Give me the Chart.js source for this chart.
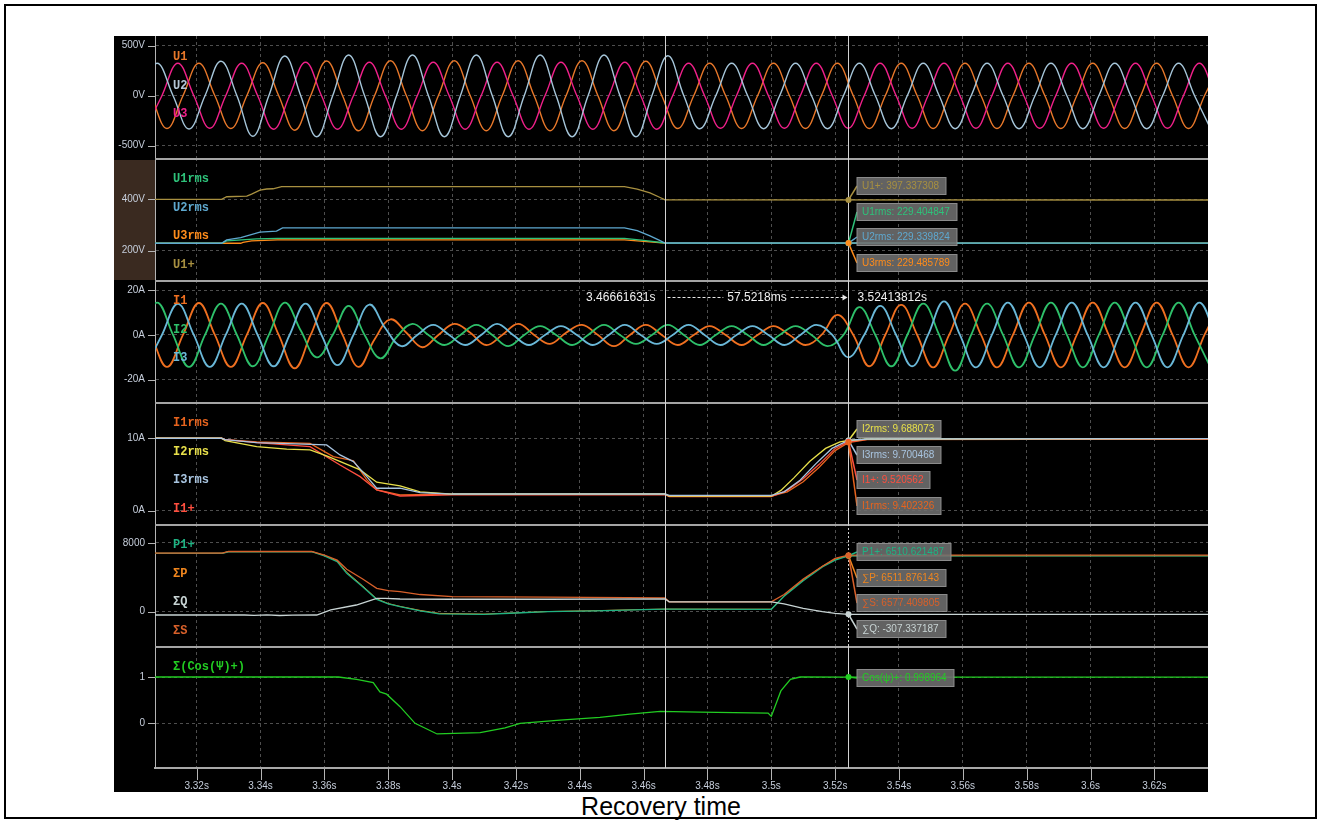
<!DOCTYPE html>
<html>
<head>
<meta charset="utf-8">
<script src="https://cdn.jsdelivr.net/npm/chart.js@4.4.1/dist/chart.umd.min.js"></script>
<style>
  html, body { margin: 0; padding: 0; background: #fff; }
  #frame { position: absolute; left: 4px; top: 4px; width: 1313px; height: 815px; box-sizing: border-box; border: 2px solid #000; }
  #scope { position: absolute; left: 114px; top: 36px; width: 1094px; height: 756px; background: #000; }
  #scope canvas { position: absolute; left: 0; }
  #caption { position: absolute; left: 0; width: 1322px; top: 793px; line-height: 26px; text-align: center; font-family: "Liberation Sans", Arial, sans-serif; font-size: 25px; color: #000; }
</style>
</head>
<body>
<div id="frame"></div>
<div id="scope">
  <canvas id="c1" width="1094" height="122" style="top:0px"></canvas>
  <canvas id="c2" width="1094" height="122" style="top:122px"></canvas>
  <canvas id="c3" width="1094" height="122" style="top:244px"></canvas>
  <canvas id="c4" width="1094" height="122" style="top:366px"></canvas>
  <canvas id="c5" width="1094" height="122" style="top:488px"></canvas>
  <canvas id="c6" width="1094" height="146" style="top:610px"></canvas>
</div>
<div id="caption">Recovery time</div>
<script>
// ==== time axis ====
const X_MIN = 3.30694, X_MAX = 3.6368;
const X_MINOR = 0.004, X_MAJOR = 0.02;
const CURSOR_A = 3.46661631, CURSOR_B = 3.52413812;

// ==== sample times (peaks / zero crossings) ====
const tU1 = [3.3057,3.3107,3.3157,3.3207,3.3257,3.3307,3.3357,3.3407,3.3457,3.3507,
  3.3557,3.3607,3.3657,3.3707,3.3757,3.3807,3.3857,3.3907,3.3957,3.4007,
  3.4057,3.4107,3.4157,3.4207,3.4257,3.4307,3.4357,3.4407,3.4457,3.4507,
  3.4557,3.4607,3.4657,3.4707,3.4757,3.4807,3.4857,3.4907,3.4957,3.5007,
  3.5057,3.5107,3.5157,3.5207,3.5257,3.5307,3.5357,3.5407,3.5457,3.5507,
  3.5557,3.5607,3.5657,3.5707,3.5757,3.5807,3.5857,3.5907,3.5957,3.6007,
  3.6057,3.6107,3.6157,3.6207,3.6257,3.6307,3.6357,3.6407];
const tU2 = [3.3026,3.3076,3.3126,3.3176,3.3226,3.3276,3.3326,3.3376,3.3426,3.3476,
  3.3526,3.3576,3.3626,3.3676,3.3726,3.3776,3.3826,3.3876,3.3926,3.3976,
  3.4026,3.4076,3.4126,3.4176,3.4226,3.4276,3.4326,3.4376,3.4426,3.4476,
  3.4526,3.4576,3.4626,3.4676,3.4726,3.4776,3.4826,3.4876,3.4926,3.4976,
  3.5026,3.5076,3.5126,3.5176,3.5226,3.5276,3.5326,3.5376,3.5426,3.5476,
  3.5526,3.5576,3.5626,3.5676,3.5726,3.5776,3.5826,3.5876,3.5926,3.5976,
  3.6026,3.6076,3.6126,3.6176,3.6226,3.6276,3.6326,3.6376];
const tU3 = [3.3041,3.3091,3.3141,3.3191,3.3241,3.3291,3.3341,3.3391,3.3441,3.3491,
  3.3541,3.3591,3.3641,3.3691,3.3741,3.3791,3.3841,3.3891,3.3941,3.3991,
  3.4041,3.4091,3.4141,3.4191,3.4241,3.4291,3.4341,3.4391,3.4441,3.4491,
  3.4541,3.4591,3.4641,3.4691,3.4741,3.4791,3.4841,3.4891,3.4941,3.4991,
  3.5041,3.5091,3.5141,3.5191,3.5241,3.5291,3.5341,3.5391,3.5441,3.5491,
  3.5541,3.5591,3.5641,3.5691,3.5741,3.5791,3.5841,3.5891,3.5941,3.5991,
  3.6041,3.6091,3.6141,3.6191,3.6241,3.6291,3.6341,3.6391];

// ==== phase voltages (V) ====
const u1 = [0,-328,0,324,0,-328,0,330,0,-345,
  0,347,0,-350,0,350,0,-350,0,350,
  0,-350,0,350,0,-350,0,350,0,-350,
  0,345,0,-328,0,325,0,-328,0,325,
  0,-328,0,325,0,-328,0,325,0,-328,
  0,325,0,-328,0,325,0,-328,0,325,
  0,-328,0,325,0,-328,0,325];
const u2 = [0,324,0,-333,0,345,0,-405,0,397,
  0,-410,0,407,0,-410,0,407,0,-410,
  0,407,0,-410,0,407,0,-410,0,407,
  0,-410,0,400,0,-330,0,325,0,-330,
  0,325,0,-330,0,325,0,-330,0,325,
  0,-330,0,325,0,-330,0,325,0,-330,
  0,325,0,-330,0,325,0,-330];
const u3 = [-325,0,325,0,-325,0,325,0,-335,0,
  335,0,-335,0,335,0,-335,0,335,0,
  -335,0,335,0,-335,0,335,0,-335,0,
  335,0,-335,0,325,0,-325,0,325,0,
  -325,0,325,0,-325,0,325,0,-325,0,
  325,0,-325,0,325,0,-325,0,325,0,
  -325,0,325,0,-325,0,325,0];

// ==== phase currents (A) ====
const i1 = [0,-14.3,0,14.3,0,-14.3,0,14.3,0,-14.9,
  0,14.3,0,-14.3,-2,7,1,-5.5,0,5,
  1,-4.5,0,5,0,-4,1,4.5,0,-5,
  0,4.5,0,-4.5,0,4,0,-4.5,0,4,
  0,-4.5,0,9,0,-14,0,13.5,0,-14.5,
  0,14,0,-14.5,0,14.5,0,-14.5,0,14.5,
  0,-14.5,0,14.5,0,-14.5,0,14.5];
const i2 = [0,14.5,0,-14.3,0,14,0,-14,0,14.5,
  2,-10,0,13,0,-10.5,-1,5,0,-4.5,
  0,4.5,0,-5,0,4,0,-4.5,0,4.5,
  0,-4,0,4.5,0,-4.5,0,4,0,-4.5,
  0,4,0,-5,0,12.5,0,-14,0,14,
  0,-16,0,14,0,-14.5,0,14.5,0,-14.5,
  0,14.5,0,-14.5,0,14.5,0,-14.5];
const i3 = [-14,0,13.9,0,-14.3,0,14,0,-14,0,
  14,0,-13.5,0,13.6,3,-5,0,4.5,0,
  -4.5,0,5,0,-4.5,0,4,0,-4.5,0,
  4.5,0,-4,0,4.5,0,-4.5,0,4,0,
  -4.5,0,4.5,0,-10,0,13,0,-14,0,
  15,0,-14.5,0,14.5,0,-14.5,0,14.5,0,
  -14.5,0,14.5,0,-14.5,0,14.5,0];

// ==== rms voltages (V) ====
const u1rms = [[3.3069,229],[3.3278,229],[3.3294,238],[3.3388,246],[3.3453,248],[3.4540,248],[3.4600,240],[3.4667,230],[3.6368,229.4]];
const u2rms = [[3.3069,229],[3.3278,229],[3.3294,242],[3.3338,251],[3.3398,272],[3.3450,276],[3.3469,289],[3.4540,289],[3.4580,278],[3.4620,258],[3.4650,240],[3.4667,230],[3.6368,229.3]];
const u3rms = [[3.3069,229],[3.3338,229],[3.3345,232],[3.3372,238],[3.3453,242],[3.4540,242],[3.4600,236],[3.4667,230],[3.6368,229.5]];
const u1pos = [[3.3069,400],[3.3278,400],[3.3294,410],[3.3357,412],[3.3372,420],[3.3398,436],[3.3419,440],[3.3439,441],[3.3466,449],[3.4540,449],[3.4580,440],[3.4620,425],[3.4650,408],[3.4667,398],[3.6368,397.3]];

// ==== rms currents (A) ====
const i1rms = [[3.3069,10],[3.3278,10],[3.3289,9.8],[3.3388,9.5],[3.3555,9.3],[3.3628,7.47],[3.3691,6.9],[3.3733,4.25],[3.3764,2.87],[3.3837,2.17],[3.4000,2.3],[3.4667,2.3],[3.4680,2.0],[3.5000,2.0],[3.5050,2.6],[3.5100,4.0],[3.5150,6.0],[3.5200,8.3],[3.5241,9.40],[3.5300,9.8],[3.6368,9.9]];
const i2rms = [[3.3069,10],[3.3278,10],[3.3289,9.68],[3.3388,8.85],[3.3482,8.49],[3.3555,8.4],[3.3607,7.57],[3.3712,5.63],[3.3764,3.93],[3.3837,3.42],[3.3900,2.6],[3.4000,2.3],[3.4667,2.3],[3.4680,2.0],[3.5000,2.0],[3.5030,2.8],[3.5070,4.5],[3.5120,6.8],[3.5170,8.6],[3.5215,9.5],[3.5241,9.69],[3.5300,9.9],[3.6368,9.95]];
const i3rms = [[3.3069,10],[3.3278,10],[3.3289,9.8],[3.3388,9.4],[3.3607,9.09],[3.3649,7.7],[3.3691,6.78],[3.3733,4.7],[3.3764,3.1],[3.3837,3.1],[3.3900,2.5],[3.4000,2.3],[3.4667,2.3],[3.4680,2.1],[3.5000,2.1],[3.5040,2.6],[3.5090,4.2],[3.5140,6.5],[3.5190,8.6],[3.5241,9.70],[3.5300,9.9],[3.6368,9.95]];
const i1pos = [[3.3069,10],[3.3278,10],[3.3289,9.8],[3.3388,9.4],[3.3555,8.85],[3.3649,6.3],[3.3712,4.7],[3.3764,2.87],[3.3837,2.03],[3.4000,2.2],[3.4667,2.2],[3.4680,1.95],[3.5000,1.95],[3.5050,2.8],[3.5100,4.4],[3.5150,6.4],[3.5200,8.6],[3.5241,9.52],[3.5300,9.85],[3.6368,9.9]];

// ==== power (W, var, VA) ====
const p1pos = [[3.3069,6800],[3.3280,6800],[3.3300,6980],[3.3560,7000],[3.3600,6500],[3.3640,5820],[3.3670,4470],[3.3720,2900],[3.3764,1440],[3.3800,900],[3.3837,580],[3.3900,100],[3.3960,-250],[3.4100,-300],[3.4200,-150],[3.4300,0],[3.4450,100],[3.4600,250],[3.4667,290],[3.5000,280],[3.5040,1800],[3.5100,3600],[3.5160,5200],[3.5200,6000],[3.5241,6510.6],[3.6368,6510]];
const sumP = [[3.3069,6800],[3.3280,6810],[3.3300,7000],[3.3560,7010],[3.3600,6550],[3.3640,5900],[3.3670,4600],[3.3720,3000],[3.3764,1500],[3.3800,950],[3.3837,620],[3.3900,150],[3.3960,-200],[3.4100,-280],[3.4200,-130],[3.4300,20],[3.4450,120],[3.4600,260],[3.4667,300],[3.5000,290],[3.5040,1850],[3.5100,3700],[3.5160,5300],[3.5200,6100],[3.5241,6511.9],[3.6368,6512]];
const sumS = [[3.3069,6830],[3.3280,6830],[3.3300,7010],[3.3560,7020],[3.3600,6600],[3.3640,6000],[3.3670,4940],[3.3720,3800],[3.3764,2720],[3.3800,2450],[3.3837,2330],[3.3900,2000],[3.4000,1750],[3.4300,1700],[3.4667,1600],[3.4680,1150],[3.5000,1150],[3.5040,2000],[3.5100,3800],[3.5160,5300],[3.5200,6200],[3.5241,6577.4],[3.6368,6580]];
const sumQ = [[3.3069,-384],[3.3350,-384],[3.3380,-420],[3.3420,-360],[3.3460,-440],[3.3500,-400],[3.3576,-384],[3.3620,200],[3.3700,780],[3.3764,1560],[3.3790,1560],[3.3837,1480],[3.4000,1450],[3.4300,1450],[3.4667,1500],[3.4680,1150],[3.5000,1150],[3.5040,900],[3.5100,400],[3.5160,0],[3.5200,-200],[3.5241,-307.3],[3.6368,-310]];

// ==== power factor ====
const cosPos = [[3.3069,1],[3.3644,1],[3.3701,0.95],[3.3753,0.88],[3.3774,0.68],[3.3795,0.63],[3.3837,0.36],[3.3884,0],[3.3953,-0.23],[3.4088,-0.2],[3.4166,-0.1],[3.4213,0],[3.4338,0.07],[3.4463,0.13],[3.4557,0.2],[3.4652,0.26],[3.4777,0.24],[3.4990,0.22],[3.5000,0.15],[3.5030,0.7],[3.5060,0.95],[3.5090,1],[3.5241,0.999],[3.6368,0.999]];

// ==== cursor read-outs ====
const rmsCursorNames = ['U1+', 'U1rms', 'U2rms', 'U3rms'];
const rmsCursorVals = [397.337308, 229.404847, 229.339824, 229.485789];
const irmsCursorNames = ['I2rms', 'I3rms', 'I1+', 'I1rms'];
const irmsCursorVals = [9.688073, 9.700468, 9.520562, 9.402326];
const powCursorNames = ['P1+', '∑P', '∑S', '∑Q'];
const powCursorVals = [6510.621487, 6511.876143, 6577.409805, -307.337187];
const cosCursorNames = ['Cos(ψ)+'];
const cosCursorVals = [0.998964];

// ==== colours ====
const C = {
  u1: '#e8782a', u2: '#a6c6da', u3: '#f0208a',
  u1rms: '#2ec27a', u2rms: '#5ea8cf', u3rms: '#ff8c1a', u1pos: '#a89040',
  i1: '#f07020', i2: '#2ec06a', i3: '#6ab8d8',
  i1rms: '#e8641e', i2rms: '#e8e04a', i3rms: '#a8c4e0', i1pos: '#ff4f3f',
  p1pos: '#1fb383', sumP: '#f0861e', sumQ: '#c8d4d4', sumS: '#d8602a',
  cos: '#22cc22'
};

function isMajor(v, step) { const r = v / step; return Math.abs(r - Math.round(r)) < 1e-6; }
function zip(ts, vs) { return ts.map((t, i) => ({ x: t, y: vs[i] })); }
function pts(arr) { return arr.map(p => ({ x: p[0], y: p[1] })); }
function xLabel(v) { return parseFloat(v.toFixed(2)) + 's'; }

const FONT = '"Liberation Sans", Arial, sans-serif';
const TICK_COL = '#c6cedb';
const GRID_COL = '#4e4e4e';

// ==== decorations: ticks, separators, cursors, labels, read-out boxes ====
const scopeDecor = {
  id: 'scopeDecor',
  beforeDraw(chart, args, o) {
    if (!o.axisBg) return;
    const a = chart.chartArea, ctx = chart.ctx;
    ctx.save();
    ctx.fillStyle = o.axisBg;
    ctx.fillRect(0, a.top + 2, a.left, a.bottom - a.top - 2);
    ctx.restore();
  },
  afterDatasetsDraw(chart, args, o) {
    const ctx = chart.ctx, a = chart.chartArea, xs = chart.scales.x, ys = chart.scales.y;
    ctx.save();
    // y ticks
    ctx.strokeStyle = '#b4b4b4'; ctx.lineWidth = 1;
    ys.ticks.forEach(t => {
      const py = Math.round(ys.getPixelForValue(t.value)) + 0.5;
      const len = isMajor(t.value, o.yMajor) ? 7 : 3;
      ctx.beginPath(); ctx.moveTo(a.left - len, py); ctx.lineTo(a.left, py); ctx.stroke();
    });
    // x ticks (bottom panel only)
    if (o.xTicks) {
      xs.ticks.forEach(t => {
        const px = Math.round(xs.getPixelForValue(t.value)) + 0.5;
        const len = isMajor(t.value, X_MAJOR) ? 11 : 4;
        ctx.beginPath(); ctx.moveTo(px, a.bottom + 1); ctx.lineTo(px, a.bottom + 1 + len); ctx.stroke();
      });
    }
    // separator on top
    if (o.separator) {
      ctx.strokeStyle = '#a4a4a4'; ctx.lineWidth = 2;
      ctx.beginPath(); ctx.moveTo(a.left, a.top + 1); ctx.lineTo(a.right, a.top + 1); ctx.stroke();
    }
    // cursors
    const ax = Math.round(xs.getPixelForValue(CURSOR_A)) + 0.5;
    const bx = Math.round(xs.getPixelForValue(CURSOR_B)) + 0.5;
    ctx.strokeStyle = '#d2d2d2'; ctx.lineWidth = 1;
    ctx.beginPath(); ctx.moveTo(ax, a.top); ctx.lineTo(ax, a.bottom); ctx.stroke();
    if (o.dottedB) ctx.setLineDash([2, 2]);
    ctx.beginPath(); ctx.moveTo(bx, a.top); ctx.lineTo(bx, a.bottom); ctx.stroke();
    ctx.setLineDash([]);
    // trace labels
    ctx.font = 'bold 12px "Liberation Mono", monospace';
    ctx.textBaseline = 'middle'; ctx.textAlign = 'left';
    (o.labels || []).forEach((l, i) => {
      ctx.fillStyle = l.color;
      ctx.fillText(l.text, a.left + 18, a.top + 21 + i * 28.6);
    });
    // measurement between cursors
    if (o.measure) {
      const my = a.top + 17.5;
      ctx.font = '12px ' + FONT; ctx.fillStyle = '#f0f0f0';
      ctx.textAlign = 'right'; ctx.fillText(CURSOR_A.toFixed(8) + 's', ax - 10, my);
      ctx.textAlign = 'left'; ctx.fillText(CURSOR_B.toFixed(8) + 's', bx + 9, my);
      const mid = ((CURSOR_B - CURSOR_A) * 1000).toFixed(4) + 'ms';
      const cx = (ax + bx) / 2, w = ctx.measureText(mid).width;
      ctx.strokeStyle = '#e8e8e8'; ctx.setLineDash([3, 2]); ctx.lineWidth = 1;
      ctx.beginPath(); ctx.moveTo(ax + 2, my); ctx.lineTo(cx - w / 2 - 4, my);
      ctx.moveTo(cx + w / 2 + 4, my); ctx.lineTo(bx - 5, my); ctx.stroke();
      ctx.setLineDash([]);
      ctx.fillStyle = '#e8e8e8';
      ctx.beginPath(); ctx.moveTo(bx - 1, my); ctx.lineTo(bx - 6, my - 3); ctx.lineTo(bx - 6, my + 3); ctx.closePath(); ctx.fill();
      ctx.textAlign = 'center'; ctx.fillStyle = '#f0f0f0'; ctx.fillText(mid, cx, my);
    }
    // read-out boxes at cursor B
    if (o.boxes) {
      ctx.font = '10px ' + FONT; ctx.textAlign = 'left';
      const h = 17, left = bx + 8.5;
      o.boxes.forEach((b, i) => {
        const top = Math.round(a.top + o.boxTop + i * o.boxGap) + 0.5;
        const py = ys.getPixelForValue(b.value);
        ctx.strokeStyle = b.color; ctx.lineWidth = 1.5;
        ctx.beginPath(); ctx.moveTo(bx, py); ctx.lineTo(left, top + h / 2); ctx.stroke();
      });
      o.boxes.forEach((b, i) => {
        const top = Math.round(a.top + o.boxTop + i * o.boxGap) + 0.5;
        const w = Math.round(ctx.measureText(b.text).width) + 12;
        ctx.fillStyle = 'rgba(112,112,112,0.88)'; ctx.fillRect(left, top, w, h);
        ctx.strokeStyle = 'rgba(150,150,150,0.9)'; ctx.lineWidth = 1; ctx.strokeRect(left, top, w, h);
        ctx.fillStyle = b.color; ctx.fillText(b.text, left + 5, top + h / 2 + 0.5);
      });
      o.boxes.forEach(b => {
        ctx.fillStyle = b.color;
        ctx.beginPath(); ctx.arc(bx, ys.getPixelForValue(b.value), 3, 0, Math.PI * 2); ctx.fill();
      });
    }
    ctx.restore();
  }
};

function readouts(names, vals, colors) {
  return names.map((n, i) => ({ text: n + ': ' + vals[i].toFixed(6), value: vals[i], color: colors[i] }));
}

function xScale(bottom) {
  return {
    type: 'linear', min: X_MIN, max: X_MAX,
    ticks: {
      display: bottom, stepSize: X_MINOR, includeBounds: false, autoSkip: false, maxRotation: 0, maxTicksLimit: 1000,
      color: TICK_COL, font: { family: FONT, size: 10 }, padding: 12,
      callback: v => isMajor(v, X_MAJOR) ? xLabel(v) : null
    },
    grid: { drawTicks: false, color: c => (c.tick && isMajor(c.tick.value, X_MAJOR)) ? GRID_COL : 'rgba(0,0,0,0)' },
    border: { display: bottom, color: '#a8a8a8', width: 2, dash: [3, 3] },
    afterFit: s => { s.height = bottom ? 24 : 0; s.paddingLeft = 0; s.paddingRight = 0; }
  };
}

function yScale(p) {
  return {
    min: p.yMin, max: p.yMax,
    ticks: {
      autoSkip: false, color: TICK_COL, font: { family: FONT, size: 10 }, padding: 10,
      callback: v => isMajor(v, p.yMajor) ? Math.round(v) + p.unit : null
    },
    // one tick every minor step, aligned on zero
    afterBuildTicks: s => {
      const out = [];
      const k0 = Math.ceil(p.yMin / p.yMinor - 1e-9), k1 = Math.floor(p.yMax / p.yMinor + 1e-9);
      for (let k = k0; k <= k1; k++) out.push({ value: Math.round(k * p.yMinor * 1e6) / 1e6 });
      s.ticks = out;
    },
    grid: { drawTicks: false, color: c => (c.tick && isMajor(c.tick.value, p.yMajor)) ? GRID_COL : 'rgba(0,0,0,0)' },
    border: { display: true, color: '#b4b4b4', width: 1, dash: [3, 3] },
    afterFit: s => { s.width = 41; s.paddingTop = 0; s.paddingBottom = 0; }
  };
}

function line(data, color, tension, width) {
  return { data: data, borderColor: color, backgroundColor: color, borderWidth: width || 1.3,
    tension: tension, pointRadius: 0, fill: false };
}

const panels = [
  { id: 'c1', yMin: -623, yMax: 597, yMinor: 100, yMajor: 500, unit: 'V',
    datasets: [line(zip(tU2, u2), C.u2, 0.4, 1.4), line(zip(tU3, u3), C.u3, 0.4, 1.4), line(zip(tU1, u1), C.u1, 0.4, 1.4)],
    decor: { labels: [{ text: 'U1', color: C.u1 }, { text: 'U2', color: '#b4c6d6' }, { text: 'U3', color: C.u3 }] } },
  { id: 'c2', yMin: 86, yMax: 560.7, yMinor: 40, yMajor: 200, unit: 'V',
    datasets: [line(pts(u1pos), C.u1pos, 0), line(pts(u2rms), C.u2rms, 0), line(pts(u1rms), C.u1rms, 0), line(pts(u3rms), C.u3rms, 0)],
    decor: { separator: true, axisBg: '#3a2a20',
      labels: [{ text: 'U1rms', color: C.u1rms }, { text: 'U2rms', color: C.u2rms }, { text: 'U3rms', color: C.u3rms }, { text: 'U1+', color: C.u1pos }],
      boxes: readouts(rmsCursorNames, rmsCursorVals, [C.u1pos, C.u1rms, C.u2rms, C.u3rms]), boxTop: 19, boxGap: 25.7 } },
  { id: 'c3', yMin: -30, yMax: 24.6, yMinor: 4, yMajor: 20, unit: 'A',
    datasets: [line(zip(tU3, i3), C.i3, 0.4, 1.8), line(zip(tU2, i2), C.i2, 0.4, 1.8), line(zip(tU1, i1), C.i1, 0.4, 1.8)],
    decor: { separator: true, measure: true,
      labels: [{ text: 'I1', color: C.i1 }, { text: 'I2', color: C.i2 }, { text: 'I3', color: C.i3 }] } },
  { id: 'c4', yMin: -1.84, yMax: 15.01, yMinor: 2, yMajor: 10, unit: 'A',
    datasets: [line(pts(i3rms), C.i3rms, 0), line(pts(i2rms), C.i2rms, 0), line(pts(i1pos), C.i1pos, 0), line(pts(i1rms), C.i1rms, 0)],
    decor: { separator: true,
      labels: [{ text: 'I1rms', color: C.i1rms }, { text: 'I2rms', color: C.i2rms }, { text: 'I3rms', color: C.i3rms }, { text: 'I1+', color: C.i1pos }],
      boxes: readouts(irmsCursorNames, irmsCursorVals, [C.i2rms, C.i3rms, C.i1pos, C.i1rms]), boxTop: 18, boxGap: 25.7 } },
  { id: 'c5', yMin: -3993, yMax: 10210, yMinor: 1600, yMajor: 8000, unit: '',
    datasets: [line(pts(sumQ), C.sumQ, 0), line(pts(sumS), C.sumS, 0), line(pts(p1pos), C.p1pos, 0), line(pts(sumP), C.sumP, 0, 1)],
    decor: { separator: true, dottedB: true,
      labels: [{ text: 'P1+', color: C.p1pos }, { text: 'ΣP', color: C.sumP }, { text: 'ΣQ', color: C.sumQ }, { text: 'ΣS', color: C.sumS }],
      boxes: readouts(powCursorNames, powCursorVals, [C.p1pos, C.sumP, C.sumS, C.sumQ]), boxTop: 19, boxGap: 25.6 } },
  { id: 'c6', yMin: -0.965, yMax: 1.67, yMinor: 0.2, yMajor: 1, unit: '', bottom: true,
    datasets: [line(pts(cosPos), C.cos, 0)],
    decor: { separator: true, xTicks: true,
      labels: [{ text: 'Σ(Cos(Ψ)+)', color: C.cos }],
      boxes: readouts(cosCursorNames, cosCursorVals, [C.cos]), boxTop: 22.5, boxGap: 0 } }
];

panels.forEach(p => {
  p.decor.yMajor = p.yMajor;
  new Chart(document.getElementById(p.id), {
    type: 'line',
    data: { datasets: p.datasets },
    options: {
      responsive: false, animation: false, devicePixelRatio: 1, events: [],
      layout: { padding: 0 },
      plugins: { legend: { display: false }, tooltip: { enabled: false }, scopeDecor: p.decor },
      scales: { x: xScale(!!p.bottom), y: yScale(p) }
    },
    plugins: [scopeDecor]
  });
});
</script>
</body>
</html>
